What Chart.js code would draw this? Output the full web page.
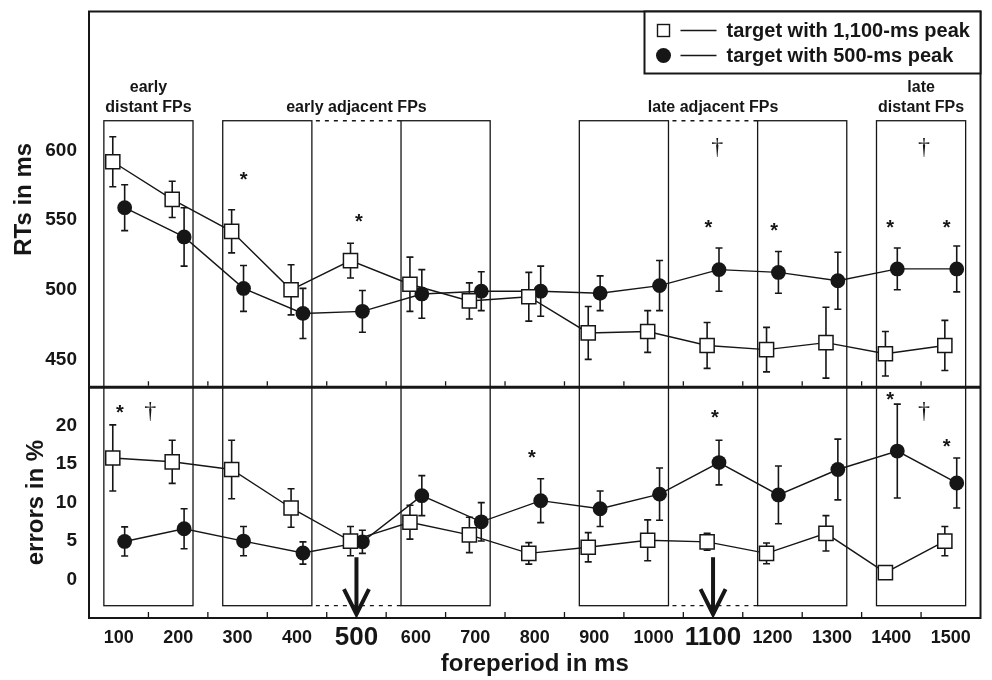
<!DOCTYPE html>
<html>
<head>
<meta charset="utf-8">
<script src="https://cdn.jsdelivr.net/npm/chart.js@4.4.1/dist/chart.umd.min.js"></script>
<style>
  html, body { margin: 0; padding: 0; background: #fff; }
</style>
</head>
<body>
<canvas id="grafica" width="992" height="680"></canvas>
<script>
// Foreperiods (ms)
const foreperiods = [100, 200, 300, 400, 500, 600, 700, 800, 900, 1000, 1100, 1200, 1300, 1400, 1500];
const peaks = [500, 1100];
const minorTicks = [150, 250, 350, 450, 550, 650, 750, 850, 950, 1050, 1150, 1250, 1350, 1450];
const rtTicks = [450, 500, 550, 600];
const errTicks = [0, 5, 10, 15, 20];

// RTs in ms
const rtLate = [592, 565, 542, 500, 521, 504, 492, 495, 469, 470, 460, 457, 462, 454, 460];       // 1,100-ms peak (squares)
const rtLateSE = [18, 13, 15.5, 18, 12.5, 19.5, 13, 17.5, 19, 15, 16.5, 16, 25.5, 16, 18];
const rtEarly = [559, 538, 501, 483, 484.5, 497, 499, 499, 497.5, 503, 514.5, 512.5, 506.5, 515, 515]; // 500-ms peak (circles)
const rtEarlySE = [16.5, 21, 16.5, 18, 15, 17.5, 14, 18, 12.5, 18, 15.5, 15, 20.5, 15, 16.5];

// errors in %
const errLate = [15.8, 15.3, 14.3, 9.3, 5.0, 7.45, 5.8, 3.4, 4.2, 5.1, 4.9, 3.4, 6.0, 0.9, 5.0];
const errLateSE = [4.3, 2.8, 3.8, 2.5, 1.9, 2.2, 2.3, 1.4, 1.9, 2.65, 1.1, 1.35, 2.3, 0.5, 1.9];
const errEarly = [4.95, 6.6, 5.0, 3.45, 4.9, 10.9, 7.5, 10.25, 9.2, 11.1, 15.2, 11.0, 14.3, 16.7, 12.55];
const errEarlySE = [1.9, 2.6, 1.9, 1.45, 1.5, 2.6, 2.5, 2.85, 2.3, 3.4, 2.9, 3.75, 3.95, 6.1, 3.25];

// FP groups (boxes) and the dotted links between them
const fpBoxes = [[75, 225], [275, 425], [575, 725], [875, 1025], [1175, 1325], [1375, 1525]];
const dottedLinks = [[425, 575], [1025, 1175]];
const groupLabels = [
  { fp: 150, lines: ['early', 'distant FPs'] },
  { fp: 500, lines: ['early adjacent FPs'] },
  { fp: 1100, lines: ['late adjacent FPs'] },
  { fp: 1450, lines: ['late', 'distant FPs'] }
];

// significance marks: [foreperiod, value, mark]
const rtMarks = [[310, 583, '*'], [504, 553, '*'], [1092, 548, '*'], [1203, 546, '*'], [1398, 548, '*'], [1493, 548, '*'],
                 [1107, 602, '†'], [1455, 602, '†']];
const errMarks = [[102, 22.3, '*'], [795, 16.5, '*'], [1103, 21.7, '*'], [1398, 24.0, '*'], [1493, 18.0, '*'],
                  [153, 21.8, '†'], [1455, 21.8, '†']];

const INK = '#161616';
const FONT = '"Liberation Sans", Arial, Helvetica, sans-serif';
const SHIFT = 10;          // horizontal offset of the two groups (ms)
const BOX_TOP = 621.5;     // in RT units
const BOX_BOTTOM = -3.4;   // in error units

const errorBars = {
  id: 'errorBars',
  beforeDatasetsDraw(chart) {
    const { ctx, scales: { x, rt, er } } = chart;
    ctx.save();
    // group boxes
    ctx.strokeStyle = INK;
    ctx.lineWidth = 1.3;
    const top = rt.getPixelForValue(BOX_TOP);
    const bottom = er.getPixelForValue(BOX_BOTTOM);
    fpBoxes.forEach(([a, b]) => {
      const l = x.getPixelForValue(a), r = x.getPixelForValue(b);
      ctx.strokeRect(l, top, r - l, bottom - top);
    });
    ctx.setLineDash([4, 5]);
    dottedLinks.forEach(([a, b]) => {
      const l = x.getPixelForValue(a), r = x.getPixelForValue(b);
      ctx.beginPath();
      ctx.moveTo(l + 4, top); ctx.lineTo(r, top);
      ctx.moveTo(l + 4, bottom); ctx.lineTo(r, bottom);
      ctx.stroke();
    });
    ctx.setLineDash([]);

    // error bars
    ctx.lineWidth = 1.6;
    chart.data.datasets.forEach((ds, i) => {
      const meta = chart.getDatasetMeta(i);
      const ys = chart.scales[ds.yAxisID];
      meta.data.forEach((pt, j) => {
        const v = ds.data[j].y, e = ds.errors[j];
        const y1 = ys.getPixelForValue(v + e), y2 = ys.getPixelForValue(v - e);
        ctx.beginPath();
        ctx.moveTo(pt.x, y1); ctx.lineTo(pt.x, y2);
        ctx.moveTo(pt.x - 3.5, y1); ctx.lineTo(pt.x + 3.5, y1);
        ctx.moveTo(pt.x - 3.5, y2); ctx.lineTo(pt.x + 3.5, y2);
        ctx.stroke();
      });
    });
    ctx.restore();
  },
  afterDraw(chart) {
    const { ctx, chartArea: a, scales: { x, rt, er } } = chart;
    ctx.save();
    ctx.strokeStyle = INK;
    ctx.fillStyle = INK;

    // frame and divider
    ctx.lineWidth = 2;
    ctx.strokeRect(a.left, a.top, a.right - a.left, a.bottom - a.top);
    ctx.lineWidth = 3;
    ctx.beginPath();
    ctx.moveTo(a.left, rt.bottom); ctx.lineTo(a.right, rt.bottom);
    ctx.stroke();

    // minor ticks, pointing inwards
    ctx.lineWidth = 1.3;
    ctx.beginPath();
    minorTicks.forEach(v => {
      const px = x.getPixelForValue(v);
      ctx.moveTo(px, rt.bottom - 1.5); ctx.lineTo(px, rt.bottom - 6);
      ctx.moveTo(px, a.bottom - 1); ctx.lineTo(px, a.bottom - 6);
    });
    ctx.stroke();

    // group labels
    const top = rt.getPixelForValue(BOX_TOP);
    ctx.font = 'bold 16px ' + FONT;
    ctx.textAlign = 'center';
    ctx.textBaseline = 'alphabetic';
    groupLabels.forEach(g => {
      const px = x.getPixelForValue(g.fp);
      g.lines.forEach((t, k) => {
        ctx.fillText(t, px, top - 9 - 20 * (g.lines.length - 1 - k));
      });
    });

    // significance marks
    const marca = (scale, [fp, v, m]) => {
      const px = x.getPixelForValue(fp), py = scale.getPixelForValue(v);
      if (m === '*') {
        ctx.font = 'bold 20px ' + FONT;
        ctx.fillText(m, px, py + 11.5);
      } else {
        ctx.font = '24px "Liberation Serif", "Times New Roman", serif';
        ctx.fillText(m, px, py + 6.5);
      }
    };
    rtMarks.forEach(m => marca(rt, m));
    errMarks.forEach(m => marca(er, m));

    // arrows at the peak foreperiods
    ctx.lineWidth = 4;
    ctx.lineCap = 'butt';
    peaks.forEach(p => {
      const px = x.getPixelForValue(p);
      const y0 = er.getPixelForValue(2.9), y1 = er.getPixelForValue(-4.5);
      ctx.beginPath();
      ctx.moveTo(px, y0); ctx.lineTo(px, y1 - 2);
      ctx.stroke();
      ctx.beginPath();
      ctx.moveTo(px - 12.5, y1 - 25); ctx.lineTo(px, y1); ctx.lineTo(px + 12.5, y1 - 25);
      ctx.stroke();
    });

    // legend
    const lx = a.right - 336, ly = a.top;
    ctx.fillStyle = '#fff';
    ctx.fillRect(lx, ly, a.right - lx, 62);
    ctx.lineWidth = 2;
    ctx.strokeRect(lx, ly, a.right - lx, 62);
    ctx.fillStyle = INK;
    ctx.font = 'bold 20px ' + FONT;
    ctx.textAlign = 'left';
    ctx.textBaseline = 'middle';
    chart.data.datasets.slice(0, 2).forEach((ds, k) => {
      const cy = ly + 19 + k * 25;
      ctx.lineWidth = 1.4;
      if (ds.pointStyle === 'rect') {
        ctx.fillStyle = '#fff';
        ctx.fillRect(lx + 13, cy - 6, 12, 12);
        ctx.strokeRect(lx + 13, cy - 6, 12, 12);
      } else {
        ctx.fillStyle = INK;
        ctx.beginPath();
        ctx.arc(lx + 19, cy, 7.5, 0, Math.PI * 2);
        ctx.fill();
      }
      ctx.fillStyle = INK;
      ctx.beginPath();
      ctx.moveTo(lx + 36, cy); ctx.lineTo(lx + 72, cy);
      ctx.stroke();
      ctx.fillText(ds.label, lx + 82, cy + 1);
    });
    ctx.restore();
  }
};

function serie(fps, values) {
  return fps.map((fp, i) => ({ x: fp, y: values[i] }));
}

const cuadrado = {
  pointStyle: 'rect', pointRadius: 10, pointBackgroundColor: '#fff',
  pointBorderColor: INK, pointBorderWidth: 1.5, borderColor: INK, borderWidth: 1.4
};
const circulo = {
  pointStyle: 'circle', pointRadius: 7.4, pointBackgroundColor: INK,
  pointBorderColor: INK, pointBorderWidth: 0, borderColor: INK, borderWidth: 1.4
};

const fpLate = foreperiods.map(v => v - SHIFT);
const fpEarly = foreperiods.map(v => v + SHIFT);

const tickFont = { family: FONT, size: 19, weight: 'bold' };

// y axes: fixed width, no extra padding for the tick labels
function ajustarY(s) {
  s.width = 89;
  s.paddingTop = 0;
  s.paddingBottom = 0;
}

new Chart(document.getElementById('grafica'), {
  type: 'line',
  data: {
    datasets: [
      { label: 'target with 1,100-ms peak', data: serie(fpLate, rtLate), errors: rtLateSE, yAxisID: 'rt', ...cuadrado },
      { label: 'target with 500-ms peak', data: serie(fpEarly, rtEarly), errors: rtEarlySE, yAxisID: 'rt', ...circulo },
      { label: 'errors, 1,100-ms peak', data: serie(fpLate, errLate), errors: errLateSE, yAxisID: 'er', ...cuadrado },
      { label: 'errors, 500-ms peak', data: serie(fpEarly, errEarly), errors: errEarlySE, yAxisID: 'er', ...circulo }
    ]
  },
  options: {
    responsive: false,
    animation: false,
    layout: { padding: { top: 11, right: 8, left: 0, bottom: 0 } },
    plugins: { legend: { display: false }, tooltip: { enabled: false } },
    scales: {
      x: {
        type: 'linear', min: 50, max: 1550,
        afterBuildTicks: s => { s.ticks = foreperiods.map(v => ({ value: v })); },
        afterFit: s => { s.height = 62; s.paddingLeft = 0; s.paddingRight = 0; },
        grid: { display: false, drawTicks: false },
        border: { display: false },
        ticks: {
          padding: 9, color: INK, maxRotation: 0, autoSkip: false,
          callback: v => String(v),
          font: c => peaks.includes(c.tick && c.tick.value)
            ? { family: FONT, size: 26, weight: 'bold', lineHeight: 0.83 }
            : { family: FONT, size: 18, weight: 'bold' }
        },
        title: {
          display: true, text: 'foreperiod in ms', color: INK,
          font: { family: FONT, size: 24, weight: 'bold' }, padding: { top: 0, bottom: 1 }
        }
      },
      er: {
        type: 'linear', position: 'left', stack: 'panels', stackWeight: 231,
        min: -5, max: 25,
        afterBuildTicks: s => { s.ticks = errTicks.map(v => ({ value: v })); },
        afterFit: ajustarY,
        grid: { display: false, drawTicks: false },
        border: { display: false },
        ticks: { padding: 12, color: INK, font: tickFont },
        title: {
          display: true, text: 'errors in %', color: INK,
          font: { family: FONT, size: 24, weight: 'bold' }, padding: { top: 22, bottom: 0 }
        }
      },
      rt: {
        type: 'linear', position: 'left', stack: 'panels', stackWeight: 376,
        min: 430, max: 700,
        afterBuildTicks: s => { s.ticks = rtTicks.map(v => ({ value: v })); },
        afterFit: ajustarY,
        grid: { display: false, drawTicks: false },
        border: { display: false },
        ticks: { padding: 12, color: INK, font: tickFont },
        title: {
          display: true, text: 'RTs in ms', color: INK,
          font: { family: FONT, size: 24, weight: 'bold' }, padding: { top: 10, bottom: 0 }
        }
      }
    }
  },
  plugins: [errorBars]
});
</script>
</body>
</html>
